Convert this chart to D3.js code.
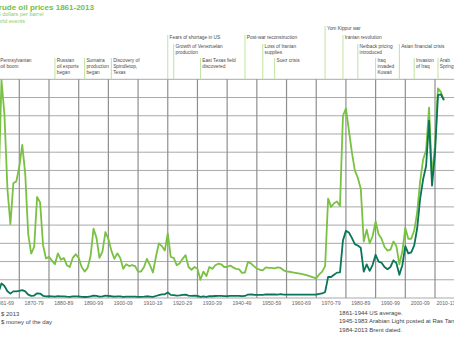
<!DOCTYPE html>
<html>
<head>
  <title>Crude oil prices 1861-2013</title>
  <style>
    body {
      margin: 0;
      background: #fff;
    }

    text {
      font-family: "Liberation Sans", Arial, sans-serif;
    }

    .grid-h {
      stroke: #a9a9a9;
      stroke-width: 1;
    }

    .grid-v {
      stroke: #8f8f8f;
      stroke-width: 1.2;
    }

    .event-line {
      stroke: #bfe2a0;
      stroke-width: 1;
    }

    .event-text {
      font-size: 4.8px;
      fill: #4a4a4a;
    }

    .tick-label {
      font-size: 5.2px;
      fill: #666;
      text-anchor: middle;
    }

    .note {
      font-size: 6px;
      fill: #444;
    }
  </style>
</head>
<body>
  <svg id="chart"></svg>

  <script src="https://d3js.org/d3.v7.min.js"></script>
  <script>
    // Years covered by the two series
    const firstYear = 1861;
    const lastYear = 2013;

    // US dollars per barrel, expressed in 2013 dollars
    const price2013 = [
      12.8, 24.7, 59.4, 119.5, 100.5, 59.9, 40.5, 63.0, 64.0,          // 1861-69
      72.0, 84.0, 68.0, 35.0, 24.4, 28.0, 55.5, 52.5, 29.0, 21.7,      // 1870s
      22.6, 20.5, 18.5, 24.5, 21.0, 22.0, 18.0, 17.0, 22.0, 24.0,      // 1880s
      22.0, 17.0, 14.5, 16.5, 23.0, 38.0, 33.0, 22.0, 25.5, 36.2,      // 1890s
      32.5, 26.0, 21.5, 24.5, 22.0, 16.0, 18.5, 17.5, 18.0, 17.5,      // 1900s
      14.5, 14.5, 17.0, 21.5, 18.0, 14.0, 22.5, 30.0, 28.5, 26.0,      // 1910s
      35.5, 22.5, 22.0, 18.0, 19.0, 21.5, 23.5, 17.0, 15.5, 17.0,      // 1920s
      16.0, 10.0, 14.5, 12.0, 17.0, 16.0, 18.0, 18.8, 18.5, 17.0,      // 1930s
      17.0, 17.8, 16.8, 16.0, 15.8, 13.8, 14.0, 19.8, 19.0, 17.5,      // 1940s
      16.2, 15.5, 15.2, 16.8, 16.5, 16.5, 16.3, 16.8, 16.5, 15.2,      // 1950s
      14.6, 14.4, 14.1, 13.8, 13.5, 13.2, 12.8, 12.4, 11.9, 11.3,      // 1960s
      10.7, 13.0, 14.5, 17.5, 54.5, 50.0, 52.0, 53.0, 50.5, 100.0,     // 1970s
      104.0, 92.0, 80.0, 70.0, 66.0, 60.0, 31.0, 37.5, 30.0, 34.0,     // 1980s
      42.0, 35.0, 32.5, 28.0, 26.0, 26.5, 31.0, 28.5, 18.5, 25.5,      // 1990s
      38.5, 32.5, 32.5, 37.0, 47.0, 64.0, 76.0, 81.0, 104.5, 66.5,     // 2000s
      84.0, 115.0, 113.0, 108.5                                        // 2010-13
    ];

    // US dollars per barrel, money of the day
    const priceMoneyOfDay = [
      0.49, 1.05, 3.15, 8.06, 6.59, 3.74, 2.41, 3.63, 3.64,
      3.86, 4.34, 3.64, 1.83, 1.17, 1.35, 2.56, 2.42, 1.19, 0.86,
      0.95, 0.86, 0.78, 1.00, 0.84, 0.88, 0.71, 0.67, 0.88, 0.94,
      0.87, 0.67, 0.56, 0.64, 0.84, 1.36, 1.18, 0.79, 0.91, 1.29,
      1.19, 0.96, 0.80, 0.94, 0.86, 0.62, 0.73, 0.72, 0.72, 0.70,
      0.61, 0.61, 0.74, 0.95, 0.81, 0.64, 1.10, 1.56, 1.98, 2.01,
      3.07, 1.73, 1.61, 1.34, 1.43, 1.68, 1.88, 1.30, 1.17, 1.27,
      1.19, 0.65, 0.87, 0.67, 1.00, 0.97, 1.09, 1.18, 1.13, 1.02,
      1.02, 1.14, 1.19, 1.20, 1.21, 1.05, 1.12, 1.90, 1.99, 1.78,
      1.71, 1.71, 1.71, 1.93, 1.93, 1.93, 1.93, 1.90, 2.08, 1.90,
      1.80, 1.80, 1.80, 1.80, 1.80, 1.80, 1.80, 1.80, 1.80, 1.80,
      1.80, 2.24, 2.48, 3.29, 11.58, 11.53, 12.80, 13.92, 14.02, 31.61,
      36.83, 35.93, 32.97, 29.55, 28.78, 27.56, 14.43, 18.44, 14.92, 18.23,
      23.73, 20.00, 19.32, 16.97, 15.82, 17.02, 20.67, 19.09, 12.72, 17.97,
      28.50, 24.44, 25.02, 28.83, 38.27, 54.52, 65.14, 72.39, 97.26, 61.67,
      79.50, 111.26, 111.67, 108.66
    ];

    // Decade labels under the x axis
    const decadeStarts = [1860, 1870, 1880, 1890, 1900, 1910, 1920, 1930, 1940,
      1950, 1960, 1970, 1980, 1990, 2000, 2010];
    const decadeLabels = ["1861-69", "1870-79", "1880-89", "1890-99", "1900-09",
      "1910-19", "1920-29", "1930-39", "1940-49", "1950-59", "1960-69",
      "1970-79", "1980-89", "1990-99", "2000-09", "2010-13"];

    // World events
    const eventYears = [1863, 1882, 1892, 1901, 1920, 1922, 1931, 1946, 1952,
      1956, 1973, 1979, 1984, 1990, 1998, 2003, 2011];
    const eventLabels = [
      ["Pennsylvanian", "oil boom"],
      ["Russian", "oil exports", "began"],
      ["Sumatra", "production", "began"],
      ["Discovery of", "Spindletop,", "Texas"],
      ["Fears of shortage in US"],
      ["Growth of Venezuelan", "production"],
      ["East Texas field", "discovered"],
      ["Post-war reconstruction"],
      ["Loss of Iranian", "supplies"],
      ["Suez crisis"],
      ["Yom Kippur war"],
      ["Iranian revolution"],
      ["Netback pricing", "introduced"],
      ["Iraq", "invaded", "Kuwait"],
      ["Asian financial crisis"],
      ["Invasion", "of Iraq"],
      ["Arab", "Spring"]
    ];

    const seriesNames = ["$ 2013", "$ money of the day"];
    const sourceNotes = [
      "1861-1944 US average.",
      "1945-1983 Arabian Light posted at Ras Tanura.",
      "1984-2013 Brent dated."
    ];

    const width = 454;
    const height = 341;
    const lightGreen = "#79c142";
    const darkGreen = "#0a7558";

    // Stagger row for each event label (top of its leader line)
    const eventRowTop = [58, 58, 58, 58, 35, 44, 58, 35, 44, 58, 26, 35, 44, 58, 44, 58, 58];

    const svg = d3.select("#chart")
      .attr("width", width)
      .attr("height", height);

    const x = d3.scaleLinear()
      .domain([1870, 2010])
      .range([19.3, 435]);

    const y = d3.scaleLinear()
      .domain([0, 120])
      .range([298, 79.3]);

    const years = d3.range(firstYear, lastYear + 1);

    // Title block
    svg.append("text")
      .attr("x", -7)
      .attr("y", 9.5)
      .attr("fill", "#74bf45")
      .style("font-size", "8px")
      .style("font-weight", "bold")
      .text("Crude oil prices 1861-2013");

    svg.append("text")
      .attr("x", -7)
      .attr("y", 16.3)
      .attr("fill", "#8dcc62")
      .style("font-size", "5.5px")
      .text("US dollars per barrel");

    svg.append("text")
      .attr("x", -7)
      .attr("y", 23.3)
      .attr("fill", "#8dcc62")
      .style("font-size", "5.5px")
      .text("World events");

    // Grid
    const grid = svg.append("g");

    grid.selectAll(".grid-h")
      .data(d3.range(0, 121, 10))
      .enter()
      .append("line")
      .attr("class", "grid-h")
      .attr("x1", x(1860))
      .attr("x2", x(2020))
      .attr("y1", d => y(d))
      .attr("y2", d => y(d));

    grid.selectAll(".grid-v")
      .data(d3.range(1860, 2021, 10))
      .enter()
      .append("line")
      .attr("class", "grid-v")
      .attr("x1", d => x(d))
      .attr("x2", d => x(d))
      .attr("y1", y(120))
      .attr("y2", y(0));

    // Event annotations
    const events = svg.append("g")
      .selectAll("g")
      .data(eventYears.map((yr, i) => ({ year: yr, lines: eventLabels[i], top: eventRowTop[i] })))
      .enter()
      .append("g");

    events.append("line")
      .attr("class", "event-line")
      .attr("x1", d => x(d.year))
      .attr("x2", d => x(d.year))
      .attr("y1", d => d.top)
      .attr("y2", y(120));

    events.append("text")
      .attr("class", "event-text")
      .attr("x", d => x(d.year) + 1.8)
      .attr("y", d => d.top + 3.6)
      .selectAll("tspan")
      .data(d => d.lines.map(t => ({ t, x: x(d.year) + 1.8 })))
      .enter()
      .append("tspan")
      .attr("x", d => d.x)
      .attr("dy", (d, i) => i === 0 ? 0 : 6)
      .text(d => d.t);

    // Price lines
    const line = d3.line()
      .x((d, i) => x(years[i]))
      .y(d => y(d));

    svg.append("path")
      .datum(price2013)
      .attr("fill", "none")
      .attr("stroke", lightGreen)
      .attr("stroke-width", 1.8)
      .attr("stroke-linejoin", "round")
      .attr("d", line);

    svg.append("path")
      .datum(priceMoneyOfDay)
      .attr("fill", "none")
      .attr("stroke", darkGreen)
      .attr("stroke-width", 1.8)
      .attr("stroke-linejoin", "round")
      .attr("d", line);

    // Decade labels
    svg.append("g")
      .selectAll("text")
      .data(decadeStarts)
      .enter()
      .append("text")
      .attr("class", "tick-label")
      .attr("x", d => x(Math.min(d + 5, 2013.7)))
      .attr("y", 304.5)
      .text((d, i) => decadeLabels[i]);

    // Legend
    const legend = svg.append("g")
      .selectAll("g")
      .data(seriesNames)
      .enter()
      .append("g");

    legend.append("line")
      .attr("x1", -16)
      .attr("x2", -4)
      .attr("y1", (d, i) => 314 + i * 7.7)
      .attr("y2", (d, i) => 314 + i * 7.7)
      .attr("stroke", (d, i) => i === 0 ? lightGreen : darkGreen)
      .attr("stroke-width", 2);

    legend.append("text")
      .attr("class", "note")
      .attr("x", 1)
      .attr("y", (d, i) => 316 + i * 7.7)
      .text(d => d);

    // Source notes
    svg.append("g")
      .selectAll("text")
      .data(sourceNotes)
      .enter()
      .append("text")
      .attr("class", "note")
      .attr("x", 339)
      .attr("y", (d, i) => 315 + i * 8.3)
      .text(d => d);
  </script>
</body>
</html>
